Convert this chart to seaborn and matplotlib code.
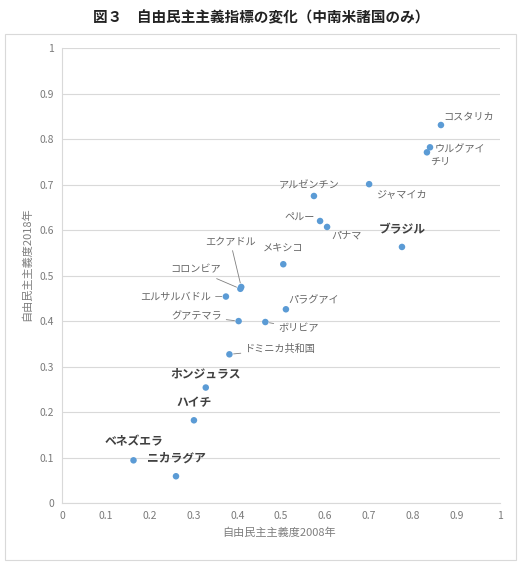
import numpy as np
import pandas as pd
import matplotlib
matplotlib.use("Agg")
import matplotlib.pyplot as plt
from matplotlib.patches import Rectangle
import seaborn as sns

# data
countries = ["コスタリカ", "ウルグアイ", "チリ", "ジャマイカ", "アルゼンチン", "ペルー", "パナマ",
             "ブラジル", "メキシコ", "エクアドル", "コロンビア", "エルサルバドル", "パラグアイ",
             "グアテマラ", "ボリビア", "ドミニカ共和国", "ホンジュラス", "ハイチ", "ベネズエラ", "ニカラグア"]
lib_2008 = [0.865, 0.840, 0.833, 0.701, 0.575, 0.589, 0.605,
            0.776, 0.505, 0.409, 0.407, 0.374, 0.511,
            0.403, 0.464, 0.382, 0.328, 0.301, 0.163, 0.260]
lib_2018 = [0.831, 0.782, 0.771, 0.701, 0.675, 0.620, 0.607,
            0.563, 0.525, 0.475, 0.471, 0.454, 0.426,
            0.400, 0.398, 0.327, 0.254, 0.182, 0.094, 0.059]
bold_names = ["ブラジル", "ホンジュラス", "ハイチ", "ベネズエラ", "ニカラグア"]

# label placement: (dx px, dy px, ha, leader line)
label_pos = {
    "コスタリカ": (2, 9, "left", False),
    "ウルグアイ": (5, -2, "left", False),
    "チリ": (3, -10, "left", False),
    "ジャマイカ": (7, -10, "left", False),
    "アルゼンチン": (-5, 11, "center", False),
    "ペルー": (-5, 3, "right", False),
    "パナマ": (4, -9, "left", False),
    "ブラジル": (0, 17, "center", False),
    "メキシコ": (0, 17, "center", False),
    "エクアドル": (-11, 46, "center", True),
    "コロンビア": (-19, 19, "right", True),
    "エルサルバドル": (-15, 0, "right", True),
    "パラグアイ": (2, 9, "left", False),
    "グアテマラ": (-17, 5, "right", True),
    "ボリビア": (13, -6, "left", True),
    "ドミニカ共和国": (16, 5, "left", True),
    "ホンジュラス": (0, 14, "center", False),
    "ハイチ": (0, 18, "center", False),
    "ベネズエラ": (0, 19, "center", False),
    "ニカラグア": (0, 18, "center", False),
}

df = pd.DataFrame({"country": countries, "x": lib_2008, "y": lib_2018})

sns.set_style("white")
plt.rcParams['font.family'] = ['Noto Sans CJK JP', 'DejaVu Sans']

fig = plt.figure(figsize=(5.22, 5.73), dpi=100)
ax = fig.add_axes([0.119, 0.122, 0.839, 0.794])

fig.patches.append(Rectangle((0.0096, 0.0227), 0.979, 0.918, transform=fig.transFigure,
                             fill=False, edgecolor="#d9d9d9", lw=0.8))

sns.scatterplot(data=df, x="x", y="y", color="#5b9bd5", s=22, edgecolor="none", ax=ax, zorder=3)

ax.set_xlim(0, 1)
ax.set_ylim(0, 1)
ax.set_xticks(np.arange(0, 1.01, 0.1))
ax.set_yticks(np.arange(0, 1.01, 0.1))
ax.set_xticklabels(["0", "0.1", "0.2", "0.3", "0.4", "0.5", "0.6", "0.7", "0.8", "0.9", "1"])
ax.set_yticklabels(["0", "0.1", "0.2", "0.3", "0.4", "0.5", "0.6", "0.7", "0.8", "0.9", "1"])
ax.tick_params(axis="both", labelsize=7.5, colors="#7a7a7a", length=0, pad=6)
ax.yaxis.grid(True, color="#d9d9d9", lw=0.8)
ax.xaxis.grid(False)
for s in ["top", "right"]:
    ax.spines[s].set_visible(False)
for s in ["left", "bottom"]:
    ax.spines[s].set_color("#d9d9d9")
    ax.spines[s].set_linewidth(0.8)
ax.set_xlabel("")
ax.set_ylabel("")

for name, x, y in zip(countries, lib_2008, lib_2018):
    dx, dy, ha, leader = label_pos[name]
    if name in bold_names:
        kw = dict(fontsize=8.5, fontweight="bold", color="#404040")
    else:
        kw = dict(fontsize=7.3, color="#666666")
    arrow = dict(arrowstyle="-", color="#7f7f7f", lw=0.6, shrinkA=1, shrinkB=3) if leader else None
    ax.annotate(name, xy=(x, y), xytext=(dx, dy), textcoords="offset pixels",
                ha=ha, va="center", arrowprops=arrow, **kw)

fig.text(0.5, 0.970, "図３　自由民主主義指標の変化（中南米諸国のみ）", ha="center", va="center",
         fontsize=10.5, fontweight="bold", color="#222222")
fig.text(0.535, 1 - 533 / 573, "自由民主主義度2008年", ha="center", va="center",
         fontsize=8, color="#7f7f7f")
fig.text(0.052, 1 - 264 / 573, "自由民主主義度2018年", ha="center", va="center",
         fontsize=8, color="#7f7f7f", rotation=90)

fig.savefig("out.png", dpi=100)
